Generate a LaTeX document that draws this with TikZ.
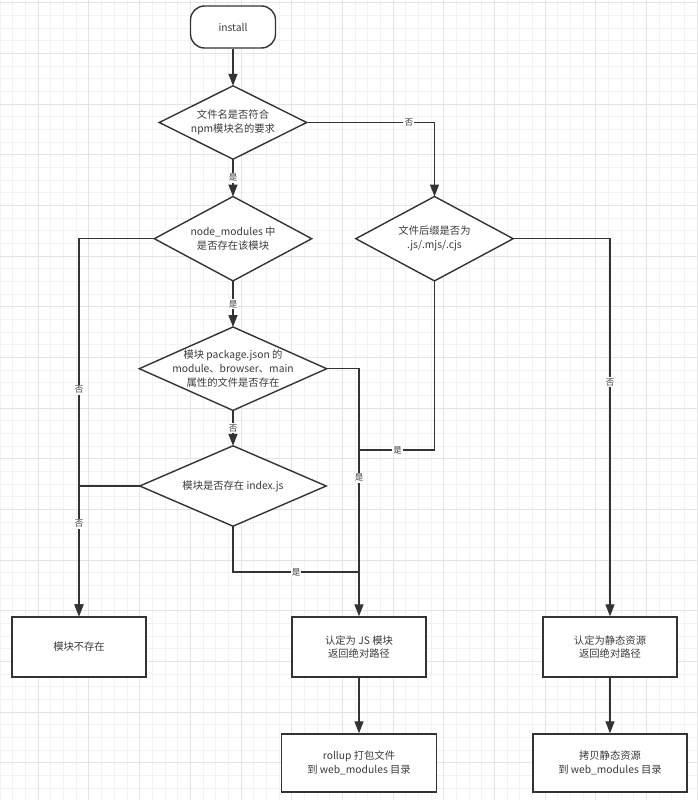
\documentclass[tikz,border=0pt]{standalone}
\usepackage{fontspec}
\setmainfont{Noto Sans CJK SC}
\usetikzlibrary{arrows.meta}
\definecolor{ln}{HTML}{333333}
\definecolor{txt}{HTML}{3A3A3A}
\definecolor{gminor}{HTML}{F2F2F2}
\definecolor{gmajor}{HTML}{E4E4E4}
\newcommand{\txtfont}{\fontsize{10.3}{13.7}\selectfont}
\newcommand{\lblfont}{\fontsize{8.5}{10}\selectfont}
\pgfdeclarelayer{gridlayer}
\pgfdeclarelayer{shapelayer}
\pgfsetlayers{gridlayer,shapelayer,main}
\tikzset{
  conn/.style={draw=ln, line width=1.3pt},
  arr/.style={conn, -{Triangle[length=12pt,width=9pt]}},
  boxnode/.style={draw=ln, line width=1.4pt, fill=white, minimum width=134pt, minimum height=60pt, align=center, font=\txtfont, text=txt, inner sep=0pt},
  dnode/.style={inner sep=0pt, align=center, font=\txtfont, text=txt},
  dia/.style={draw=ln, line width=1.4pt, fill=white, line join=miter},
  lbl/.style={fill=white, inner sep=1.2pt, font=\lblfont, text=txt}
}
\begin{document}
\begin{tikzpicture}[x=1pt,y=-1pt]
\useasboundingbox (0,0) rectangle (698,800);
\begin{pgfonlayer}{gridlayer}
  \fill[white] (0,0) rectangle (698,800);
  \foreach \k in {0,...,55} {\draw[gminor, line width=1pt] ({0.3+12.67*\k},0) -- ({0.3+12.67*\k},800);}
  \foreach \k in {0,...,63} {\draw[gminor, line width=1pt] (0,{2.7+12.67*\k}) -- (698,{2.7+12.67*\k});}
  \foreach \k in {0,...,13} {\draw[gmajor, line width=1pt] ({38.3+50.68*\k},0) -- ({38.3+50.68*\k},800);}
  \foreach \k in {0,...,15} {\draw[gmajor, line width=1pt] (0,{2.7+50.68*\k}) -- (698,{2.7+50.68*\k});}
\end{pgfonlayer}

% start
\node[draw=ln, line width=1.4pt, fill=white, rounded corners=14pt, minimum width=85pt, minimum height=42pt, font=\txtfont, text=txt] (install) at (233,27) {install};

% decisions
\node[dnode, minimum width=147pt, minimum height=73pt] (d1) at (233,122.5) {文件名是否符合\\npm模块名的要求};
\node[dnode, minimum width=157pt, minimum height=84pt] (d2) at (434.5,238.7) {文件后缀是否为\\.js/.mjs/.cjs};
\node[dnode, minimum width=157pt, minimum height=84pt] (d3) at (233,238.7) {node\_modules 中\\是否存在该模块};
\node[dnode, minimum width=187pt, minimum height=83pt] (d4) at (233,368.7) {模块 package.json 的\\module、browser、main\\属性的文件是否存在};
\node[dnode, minimum width=186pt, minimum height=80pt] (d5) at (233,486) {模块是否存在 index.js};

\begin{pgfonlayer}{shapelayer}
  \foreach \d in {d1,d2,d3,d4,d5} {
    \path[dia] (\d.north) -- (\d.east) -- (\d.south) -- (\d.west) -- cycle;
  }
\end{pgfonlayer}

% boxes
\node[boxnode] (box1) at (79,647) {模块不存在};
\node[boxnode] (boxjs) at (359,647) {认定为 JS 模块\\返回绝对路径};
\node[boxnode] (boxst) at (610,647) {认定为静态资源\\返回绝对路径};
\node[boxnode, minimum width=155pt, minimum height=58pt] (rollup) at (359,763) {rollup 打包文件\\到 web\_modules 目录};
\node[boxnode, minimum width=154pt, minimum height=58pt] (copy) at (610,763) {拷贝静态资源\\到 web\_modules 目录};

\coordinate (j1) at (359,450);
\coordinate (j2) at (359,572);

% connectors
\draw[arr] (install.south) -- (d1.north);
\draw[arr] (d1.east) -| node[lbl, pos=0.4] {否} (d2.north);
\draw[arr] (d1.south) -- node[lbl] {是} (d3.north);
\draw[arr] (d3.west) -| node[lbl, pos=0.70] {否} (box1.north);
\draw[arr] (d5.west) -| node[lbl, pos=0.645] {否} (box1.north);
\draw[arr] (d3.south) -- node[lbl] {是} (d4.north);
\draw[arr] (d4.south) -- node[lbl] {否} (d5.north);
\draw[arr] (d4.east) -| node[lbl, pos=0.72] {是} (boxjs.north);
\draw[conn] (d2.south) |- node[lbl, pos=0.745] {是} (j1);
\draw[conn] (d5.south) |- node[lbl, pos=0.75] {是} (j2);
\draw[arr] (d2.east) -| node[lbl, pos=0.69] {否} (boxst.north);
\draw[arr] (boxjs.south) -- (rollup.north);
\draw[arr] (boxst.south) -- (copy.north);
\end{tikzpicture}
\end{document}
